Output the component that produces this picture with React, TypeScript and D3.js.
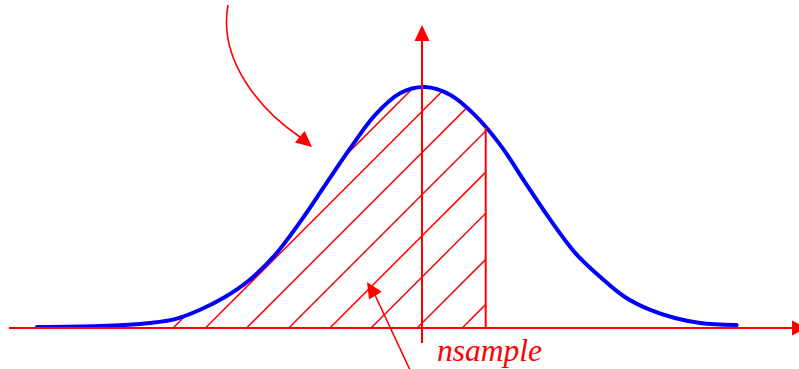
import React from "react";
import * as d3 from "d3";

// Curve samples (t in standard-deviation units, h = relative density, peak = 1)
const curveT = [-3.93, -3.29, -2.78, -2.52, -2.27, -2.01, -1.76, -1.5, -1.24, -0.99, -0.73, -0.48, -0.22, 0.03, 0.29, 0.54, 0.8, 1.05, 1.31, 1.56, 1.82, 2.07, 2.33, 2.58, 2.84, 3.21];
const curveH = [0.0, 0.004, 0.017, 0.033, 0.071, 0.125, 0.196, 0.3, 0.44, 0.59, 0.746, 0.883, 0.975, 1.0, 0.967, 0.883, 0.758, 0.604, 0.446, 0.31, 0.208, 0.125, 0.071, 0.0375, 0.017, 0.008];

// Hatch line start positions on the axis (t units) and right boundary of shaded region
const hatchStarts = [-2.54, -2.21, -1.79, -1.36, -0.94, -0.52, -0.05, 0.41];
const boundaryT = 0.65;

const labelText = "nsample";

const W = 799;
const H = 369;
const RED = "#ff0000";
const BLUE = "#0000ff";

function arrowHead(tipX: number, tipY: number, fromX: number, fromY: number, len: number, half: number) {
  const dx = tipX - fromX;
  const dy = tipY - fromY;
  const d = Math.sqrt(dx * dx + dy * dy);
  const ux = dx / d;
  const uy = dy / d;
  const bx = tipX - ux * len;
  const by = tipY - uy * len;
  const px = -uy;
  const py = ux;
  return `M${tipX},${tipY}L${bx + px * half},${by + py * half}L${bx - px * half},${by - py * half}Z`;
}

export default function App() {
  const x = d3.scaleLinear().domain([-4, 4]).range([30, 814]);
  const y = d3.scaleLinear().domain([0, 1]).range([327, 87]);
  const axisY = 328;

  const pts: [number, number][] = curveT.map((t, i) => [t, curveH[i]]);
  const line = d3
    .line<[number, number]>()
    .x((d) => x(d[0]))
    .y((d) => y(d[1]))
    .curve(d3.curveCatmullRom.alpha(0.5));
  const area = d3
    .area<[number, number]>()
    .x((d) => x(d[0]))
    .y0(axisY + 1)
    .y1((d) => y(d[1]))
    .curve(d3.curveCatmullRom.alpha(0.5));

  // height of curve at boundary by linear interpolation of data
  const interp = d3.scaleLinear().domain(curveT).range(curveH);
  const bx = x(boundaryT);
  const bTop = y(interp(boundaryT));

  const L = 420;
  const ax = x(0);

  return (
    <svg width={W} height={H} style={{ position: "absolute", left: 0, top: 0 }} xmlns="http://www.w3.org/2000/svg">
      <defs>
        <clipPath id="areaClip">
          <path d={area(pts) || ""} />
        </clipPath>
        <clipPath id="rectClip">
          <rect x={0} y={0} width={bx} height={H} />
        </clipPath>
      </defs>
      <rect x={0} y={0} width={W} height={H} fill="#ffffff" />

      {/* hatching */}
      <g clipPath="url(#rectClip)">
        <g clipPath="url(#areaClip)">
          {hatchStarts.map((s, i) => {
            const x1 = x(s);
            return (
              <line key={i} x1={x1} y1={axisY} x2={x1 + L} y2={axisY - L} stroke={RED} strokeWidth={1.5} />
            );
          })}
        </g>
      </g>

      {/* curve */}
      <path d={line(pts) || ""} fill="none" stroke={BLUE} strokeWidth={4} strokeLinejoin="round" strokeLinecap="round" />

      {/* boundary line */}
      <line x1={bx} y1={axisY} x2={bx} y2={bTop} stroke={RED} strokeWidth={2} />

      {/* x axis */}
      <line x1={9} y1={axisY} x2={794} y2={axisY} stroke={RED} strokeWidth={2} />
      <path d={arrowHead(807, axisY, 790, axisY, 15, 7.5)} fill={RED} />

      {/* y axis */}
      <line x1={ax} y1={343} x2={ax} y2={38} stroke={RED} strokeWidth={2} />
      <path d={arrowHead(ax, 25, ax, 45, 16, 7.5)} fill={RED} />

      {/* curved annotation arrow */}
      <path d="M228,5 C218,60 260,110 300,137" fill="none" stroke={RED} strokeWidth={1.6} />
      <path d={arrowHead(312, 147, 299, 136, 16, 7.5)} fill={RED} />

      {/* bottom annotation arrow */}
      <line x1={410} y1={370} x2={375} y2={295} stroke={RED} strokeWidth={1.6} />
      <path d={arrowHead(367, 282, 375, 295, 16, 7.5)} fill={RED} />

      <text
        x={437}
        y={361}
        fill={RED}
        fontFamily="'Liberation Serif', 'Times New Roman', serif"
        fontStyle="italic"
        fontSize={31.5}
      >
        {labelText}
      </text>
    </svg>
  );
}
